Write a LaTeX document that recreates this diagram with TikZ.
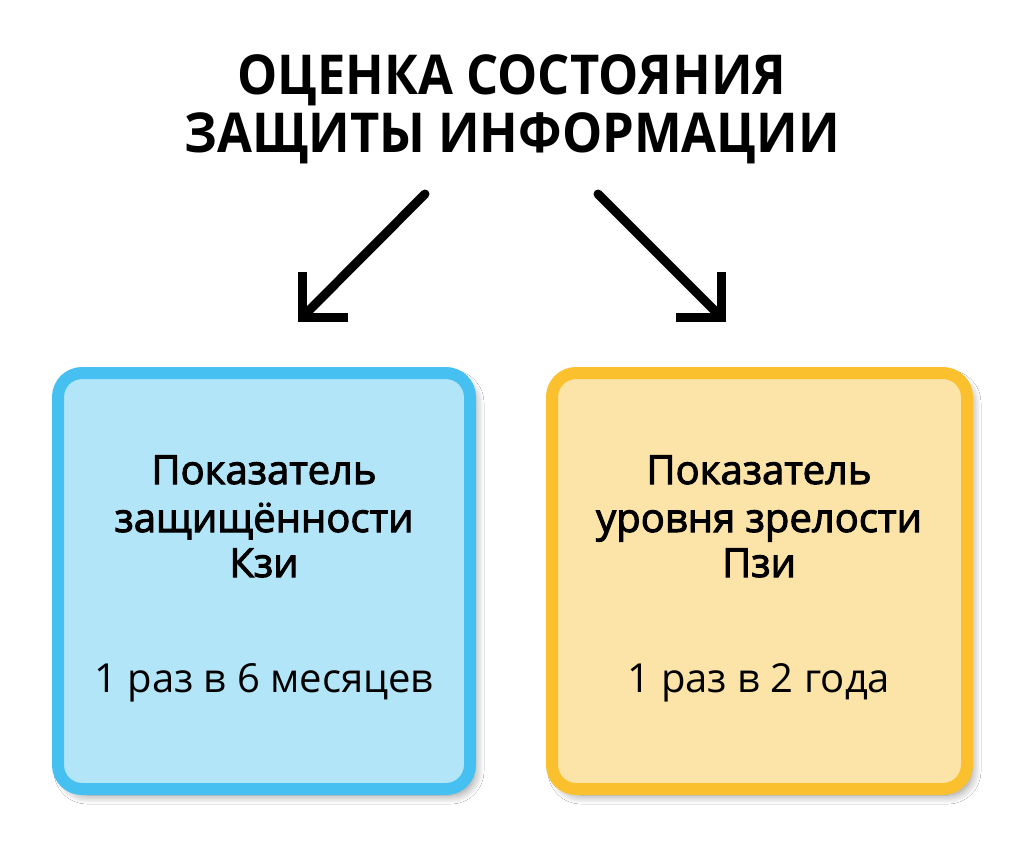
\documentclass[tikz,border=0pt]{standalone}
\usepackage{fontspec}
\setmainfont{Open Sans}
\newfontfamily\semib[FakeBold=2.5]{Open Sans}
\newfontfamily\ttlfont[FakeStretch=0.92]{Open Sans Bold}
\usetikzlibrary{shadows.blur}
\definecolor{bluebd}{RGB}{69,192,240}
\definecolor{bluefl}{RGB}{179,229,248}
\definecolor{yelbd}{RGB}{251,192,45}
\definecolor{yelfl}{RGB}{252,228,168}
\tikzset{
  box/.style={line width=12pt, rounded corners=24pt,
    blur shadow={shadow xshift=5pt, shadow yshift=-6pt, shadow blur steps=12, shadow opacity=45, shadow blur radius=9pt}},
  ttl/.style={font=\fontsize{55}{58}\selectfont\ttlfont, anchor=base},
  hd/.style={font=\fontsize{40}{47}\selectfont\semib, anchor=base},
  bd/.style={font=\fontsize{40}{47}\selectfont, anchor=base},
  arr/.style={line width=9pt, line cap=round},
  head/.style={line width=9pt, line cap=butt, miter limit=10}
}
\begin{document}
\begin{tikzpicture}[x=1pt,y=-1pt]
\fill[white] (0,0) rectangle (1024,847);
\useasboundingbox (0,0) rectangle (1024,847);
% title
\node[ttl] (t1) at (512,94) {ОЦЕНКА СОСТОЯНИЯ};
\node[ttl] (t2) at (512,152) {ЗАЩИТЫ ИНФОРМАЦИИ};
% boxes
\draw[box, draw=bluebd, fill=bluefl] (58,373) rectangle (470,789);
\draw[box, draw=yelbd, fill=yelfl] (552,373) rectangle (967,789);
\node[hd] (a1) at (264,484) {Показатель};
\node[hd] (a2) at (264,532) {защищённости};
\node[hd] (a3) at (264,577) {Кзи};
\node[bd] (a4) at (264,692) {1 раз в 6 месяцев};
\node[hd] (b1) at (759,484) {Показатель};
\node[hd] (b2) at (759,532) {уровня зрелости};
\node[hd] (b3) at (759,577) {Пзи};
\node[bd] (b4) at (759,692) {1 раз в 2 года};
% arrows
\coordinate (ls) at (425,194);
\coordinate (le) at (302,317.5);
\coordinate (rs) at (598,194);
\coordinate (re) at (721.5,317.5);
\draw[arr] (ls) -- ([shift={(2,-2)}]le);
\draw[head] ([shift={(0,-45.5)}]le) -- (le) -- ([shift={(46,0)}]le);
\draw[arr] (rs) -- ([shift={(-2,-2)}]re);
\draw[head] ([shift={(-45.5,0)}]re) -- (re) -- ([shift={(0,-45.5)}]re);
\end{tikzpicture}
\end{document}
